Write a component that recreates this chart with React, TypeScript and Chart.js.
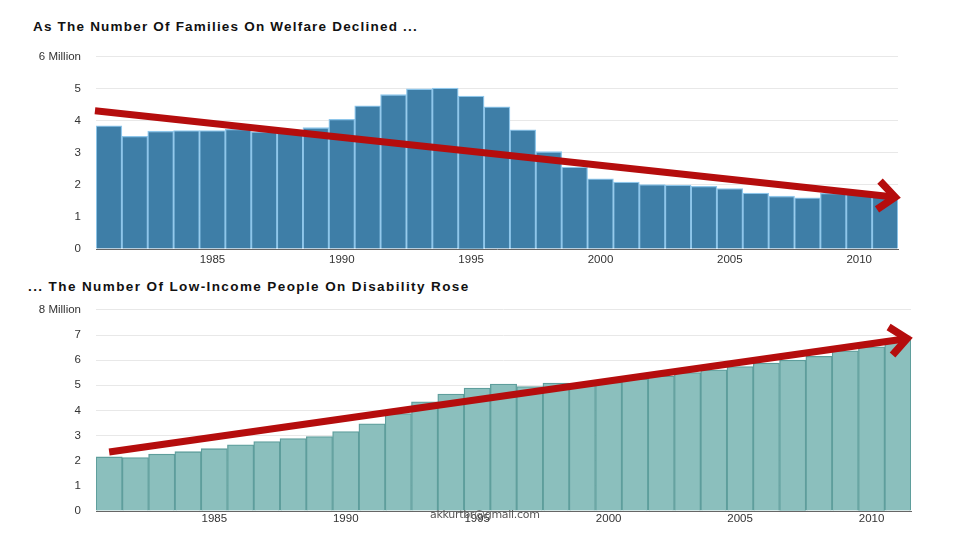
import React, { useEffect, useRef } from "react";
import { Chart, registerables } from "chart.js";

Chart.register(...registerables);

const years: string[] = [];
for (let y = 1981; y <= 2011; y++) years.push(String(y));

const welfareFamilies = [
  3.85, 3.52, 3.68, 3.7, 3.7, 3.74, 3.66, 3.62, 3.79, 4.05, 4.47, 4.82, 5.0, 5.03, 4.78, 4.44,
  3.72, 3.04, 2.56, 2.19, 2.09, 2.01, 2.0, 1.96, 1.89, 1.75, 1.65, 1.6, 1.74, 1.72, 1.65,
];

const disabilityPeople = [
  2.15, 2.13, 2.26, 2.36, 2.48, 2.63, 2.76, 2.88, 2.96, 3.16, 3.47, 3.88, 4.34, 4.65, 4.89, 5.05,
  4.95, 5.09, 5.04, 5.12, 5.25, 5.37, 5.51, 5.62, 5.75, 5.88, 6.0, 6.15, 6.37, 6.53, 6.8,
];

const topTitle = "As The Number Of Families On Welfare Declined ...";
const bottomTitle = "... The Number Of Low-Income People On Disability Rose";
const topMaxLabel = "6 Million";
const bottomMaxLabel = "8 Million";
const watermark = "akkurtbr@gmail.com";

// arrow endpoints: [category index, value]
const topArrow = [[-0.54, 4.32], [30.54, 1.61]];
const bottomArrow = [[0.0, 2.35], [30.5, 6.88]];

const FONT = "'Liberation Sans', Arial, Helvetica, sans-serif";

function arrowPlugin(points: number[][]) {
  return {
    id: "trendArrow",
    afterDatasetsDraw(chart: any) {
      const xs = chart.scales.x;
      const ys = chart.scales.y;
      const x1 = xs.getPixelForValue(points[0][0]);
      const y1 = ys.getPixelForValue(points[0][1]);
      const x2 = xs.getPixelForValue(points[1][0]);
      const y2 = ys.getPixelForValue(points[1][1]);
      const ctx = chart.ctx;
      ctx.save();
      ctx.strokeStyle = "#b50d0d";
      ctx.lineWidth = 7;
      ctx.lineCap = "butt";
      ctx.lineJoin = "miter";
      const ang = Math.atan2(y2 - y1, x2 - x1);
      const back = 5;
      ctx.beginPath();
      ctx.moveTo(x1, y1);
      ctx.lineTo(x2 - back * Math.cos(ang), y2 - back * Math.sin(ang));
      ctx.stroke();
      const len = 25;
      const spread = 0.6;
      ctx.lineWidth = 7.5;
      ctx.beginPath();
      ctx.moveTo(x2 - len * Math.cos(ang - spread), y2 - len * Math.sin(ang - spread));
      ctx.lineTo(x2 - 4 * Math.cos(ang), y2 - 4 * Math.sin(ang));
      ctx.lineTo(x2 - len * Math.cos(ang + spread), y2 - len * Math.sin(ang + spread));
      ctx.stroke();
      ctx.restore();
    },
  };
}

function makeConfig(
  data: number[],
  max: number,
  maxLabel: string,
  fill: string,
  border: string,
  arrow: number[][],
  padRight: number,
  xPad: number
): any {
  return {
    type: "bar",
    data: {
      labels: years,
      datasets: [
        {
          data,
          backgroundColor: fill,
          borderColor: border,
          borderWidth: 1.3,
          barPercentage: 1,
          categoryPercentage: 1,
        },
      ],
    },
    options: {
      responsive: false,
      animation: false,
      layout: { padding: { left: 0, right: padRight, top: 0, bottom: 0 } },
      plugins: { legend: { display: false }, tooltip: { enabled: false }, title: { display: false } },
      scales: {
        x: {
          grid: { display: false, drawTicks: false },
          border: { display: true, color: "#666", width: 1 },
          afterFit: (s: any) => {
            s.height = 24;
          },
          ticks: {
            autoSkip: false,
            maxRotation: 0,
            minRotation: 0,
            padding: xPad,
            color: "#333",
            font: { family: FONT, size: 11.5 },
            callback: (v: any, i: number) => (Number(years[i]) % 5 === 0 ? years[i] : ""),
          },
        },
        y: {
          min: 0,
          max,
          afterFit: (s: any) => {
            s.width = 96;
          },
          border: { display: false },
          grid: { color: "#e8e8e8", drawTicks: false, lineWidth: 1 },
          ticks: {
            stepSize: 1,
            padding: 15,
            color: "#333",
            font: { family: FONT, size: 11.5 },
            callback: (v: any) => (v === max ? maxLabel : String(v)),
          },
        },
      },
    },
    plugins: [arrowPlugin(arrow)],
  };
}

export default function App() {
  const topRef = useRef<HTMLCanvasElement>(null);
  const botRef = useRef<HTMLCanvasElement>(null);

  useEffect(() => {
    document.body.style.margin = "0";
    const c1 = new Chart(
      topRef.current as HTMLCanvasElement,
      makeConfig(welfareFamilies, 6, topMaxLabel, "#3e7ea7", "#8ec6ea", topArrow, 62, 4)
    );
    const c2 = new Chart(
      botRef.current as HTMLCanvasElement,
      makeConfig(disabilityPeople, 8, bottomMaxLabel, "#8bbfbd", "#5e9e9c", bottomArrow, 49, 1)
    );
    return () => {
      c1.destroy();
      c2.destroy();
    };
  }, []);

  const titleStyle: React.CSSProperties = {
    position: "absolute",
    fontSize: 13.5,
    fontWeight: "bold",
    color: "#111",
    whiteSpace: "nowrap",
  };

  return (
    <div
      style={{
        position: "absolute",
        left: 0,
        top: 0,
        width: 960,
        height: 540,
        background: "#fff",
        overflow: "hidden",
        fontFamily: FONT,
      }}
    >
      <div style={{ ...titleStyle, left: 33, top: 19, letterSpacing: 1.2 }}>{topTitle}</div>
      <div style={{ ...titleStyle, left: 28, top: 279, letterSpacing: 1.4 }}>{bottomTitle}</div>
      <canvas
        ref={topRef}
        width={960}
        height={238}
        style={{ position: "absolute", left: 0, top: 35, width: 960, height: 238 }}
      />
      <canvas
        ref={botRef}
        width={960}
        height={247}
        style={{ position: "absolute", left: 0, top: 288, width: 960, height: 247 }}
      />
      <div
        style={{
          position: "absolute",
          left: 430,
          top: 508,
          fontSize: 11,
          color: "#555",
          fontFamily: "'DejaVu Sans', sans-serif",
          whiteSpace: "nowrap",
          letterSpacing: -0.3,
        }}
      >
        {watermark}
      </div>
    </div>
  );
}
